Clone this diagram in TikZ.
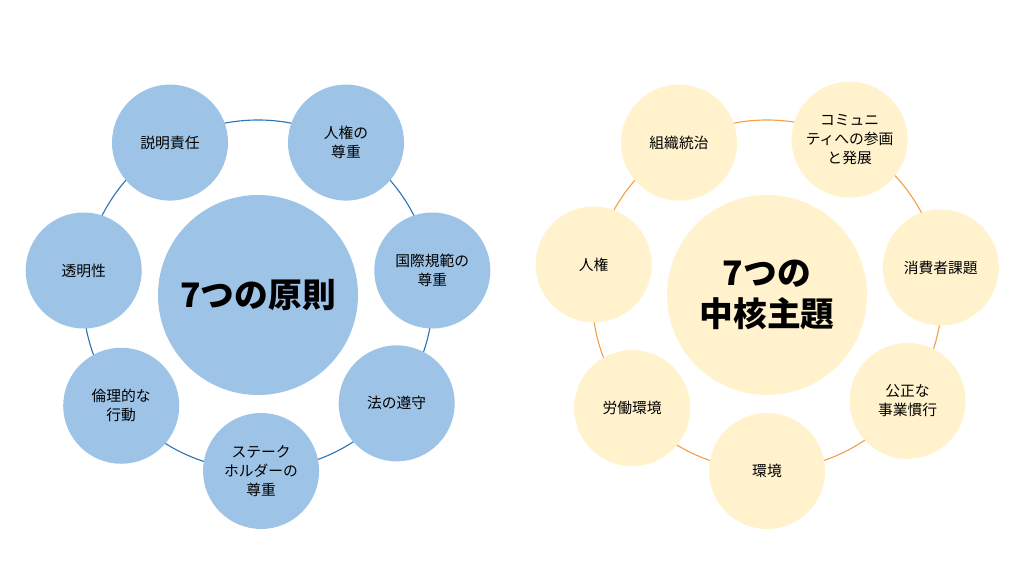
\documentclass[tikz,border=0pt]{standalone}
\usepackage{fontspec}
\setmainfont{Noto Sans CJK JP}
\usetikzlibrary{calc}
\definecolor{bluefill}{HTML}{9DC3E6}
\definecolor{blueline}{HTML}{2E75B6}
\definecolor{yellowfill}{HTML}{FFF2CC}
\definecolor{orangeline}{HTML}{F4A04A}
\tikzset{
  petal/.style={circle, minimum size=116*0.025cm, inner sep=0pt, align=center, font=\fontsize{10.5}{13.5}\selectfont},
  hub/.style={circle, minimum size=200*0.025cm, inner sep=0pt, align=center, font=\fontsize{24}{29}\selectfont\bfseries}
}
\begin{document}
\begin{tikzpicture}[x=0.025cm,y=-0.025cm]
  \useasboundingbox (0,0) rectangle (1024,576);
  % left cycle
  \coordinate (lc) at (258,295);
  \draw[blueline, thick] (lc) circle (175*0.025cm);
  \node[hub, fill=bluefill] (principles) at (lc) {7つの原則};
  \node[petal, fill=bluefill] (account) at ($(lc)+(120:176*0.025cm)$) {説明責任};
  \node[petal, fill=bluefill] (rights) at ($(lc)+(60:176*0.025cm)$) {人権の\\尊重};
  \node[petal, fill=bluefill] (norms) at ($(lc)+(8:176*0.025cm)$) {国際規範の\\尊重};
  \node[petal, fill=bluefill] (law) at ($(lc)+(-38:176*0.025cm)$) {法の遵守};
  \node[petal, fill=bluefill] (stake) at ($(lc)+(-89:176*0.025cm)$) {ステーク\\ホルダーの\\尊重};
  \node[petal, fill=bluefill] (ethics) at ($(lc)+(-141:176*0.025cm)$) {倫理的な\\行動};
  \node[petal, fill=bluefill] (transp) at ($(lc)+(172:176*0.025cm)$) {透明性};
  % right cycle
  \coordinate (rc) at (767,295);
  \draw[orangeline, thick] (rc) circle (175*0.025cm);
  \node[hub, fill=yellowfill] (subjects) at (rc) {7つの\\中核主題};
  \node[petal, fill=yellowfill] (govern) at ($(rc)+(120:176*0.025cm)$) {組織統治};
  \node[petal, fill=yellowfill] (community) at ($(rc)+(62:176*0.025cm)$) {コミュニ\\ティへの参画\\と発展};
  \node[petal, fill=yellowfill] (consumer) at ($(rc)+(9:176*0.025cm)$) {消費者課題};
  \node[petal, fill=yellowfill] (fair) at ($(rc)+(-37:176*0.025cm)$) {公正な\\事業慣行};
  \node[petal, fill=yellowfill] (environ) at ($(rc)+(-90:176*0.025cm)$) {環境};
  \node[petal, fill=yellowfill] (labour) at ($(rc)+(-140:176*0.025cm)$) {労働環境};
  \node[petal, fill=yellowfill] (hrights) at ($(rc)+(170:176*0.025cm)$) {人権};
\end{tikzpicture}
\end{document}
